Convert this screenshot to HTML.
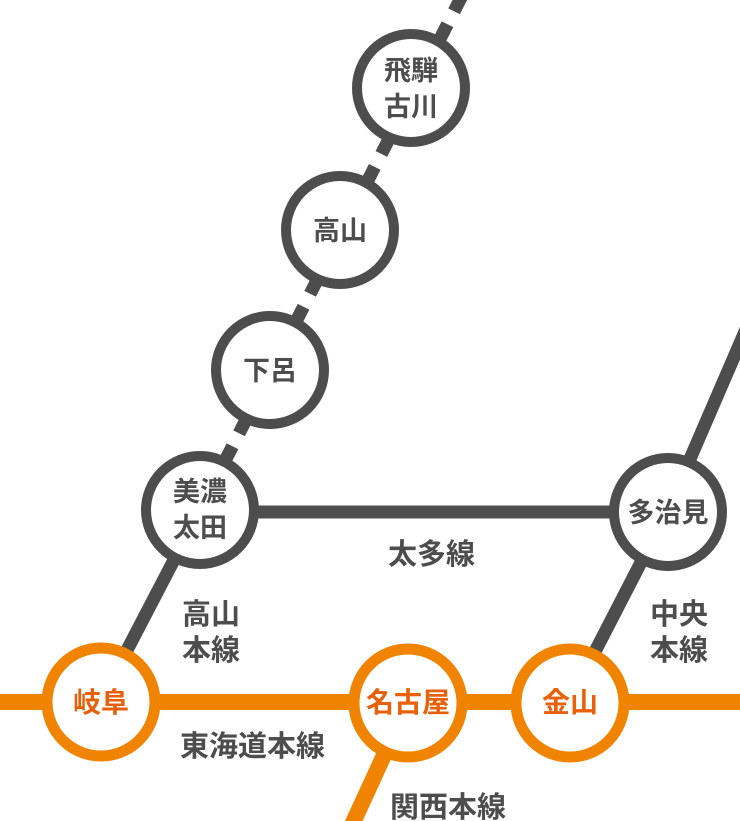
<!DOCTYPE html>
<html><head><meta charset="utf-8"><style>
html,body{margin:0;padding:0;background:#fff;}
svg{display:block;}
text{font-family:"Liberation Sans","Noto Sans CJK JP",sans-serif;font-weight:bold;}
</style></head><body>
<svg width="740" height="821" viewBox="0 0 740 821" xmlns="http://www.w3.org/2000/svg">
<g stroke="#4d4d4d" stroke-width="13" fill="none">
<line x1="470" y1="-20" x2="200" y2="510"/>
<line x1="200" y1="512" x2="668" y2="512"/>
<line x1="668" y1="510" x2="750" y2="320"/>
<line x1="668" y1="510" x2="570" y2="700"/>
<line x1="200" y1="510" x2="100" y2="702"/>
</g>
<g stroke="#fff" stroke-width="22">
<line x1="379.5" y1="153" x2="373" y2="166"/>
<line x1="308.5" y1="293" x2="302" y2="306"/>
<line x1="238.5" y1="433" x2="232" y2="446"/>
<line x1="453.5" y1="11" x2="447" y2="24"/>
</g>
<g stroke="#f08300" stroke-width="16" fill="none">
<line x1="0" y1="702" x2="740" y2="702"/>
<line x1="408" y1="703" x2="345" y2="840"/>
</g>
<g fill="#fff" stroke="#4d4d4d" stroke-width="10">
<circle cx="411" cy="88" r="54"/>
<circle cx="340" cy="230" r="54"/>
<circle cx="270" cy="370" r="54"/>
<circle cx="200" cy="510" r="54"/>
<circle cx="668" cy="512" r="54"/>
</g>
<g fill="#fff" stroke="#f08300" stroke-width="11">
<circle cx="101" cy="702" r="54"/>
<circle cx="408" cy="703" r="54"/>
<circle cx="570" cy="703" r="54"/>
</g>
<g fill="#4d4d4d" font-size="27" text-anchor="middle">
<text x="411" y="80">飛騨</text>
<text x="411" y="116">古川</text>
<text x="340" y="240">高山</text>
<text x="270" y="380">下呂</text>
<text x="200" y="501">美濃</text>
<text x="200" y="537">太田</text>
<text x="668" y="522">多治見</text>
</g>
<g fill="#e8600a" font-size="28" text-anchor="middle">
<text x="101" y="712">岐阜</text>
<text x="408" y="712">名古屋</text>
<text x="570" y="712">金山</text>
</g>
<g fill="#4d4d4d" font-size="29">
<text x="182" y="624">高山</text>
<text x="182" y="660">本線</text>
<text x="388" y="564">太多線</text>
<text x="650" y="624">中央</text>
<text x="650" y="660">本線</text>
<text x="180" y="756">東海道本線</text>
<text x="390" y="817">関西本線</text>
</g>
</svg>
</body></html>
